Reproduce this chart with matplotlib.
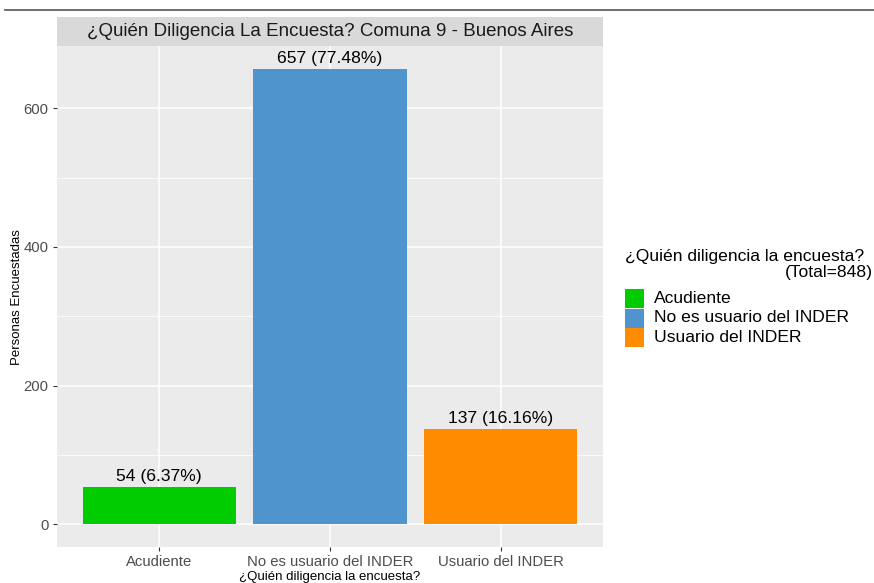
import matplotlib
matplotlib.use("Agg")
import matplotlib.pyplot as plt
from matplotlib.patches import Rectangle
from matplotlib.lines import Line2D

plt.rcParams['font.family'] = ['Liberation Sans', 'DejaVu Sans']

# data
categorias = ["Acudiente", "No es usuario del INDER", "Usuario del INDER"]
valores = [54, 657, 137]
etiquetas = ["54 (6.37%)", "657 (77.48%)", "137 (16.16%)"]
colores = ["#00CC00", "#4F94CD", "#FF8C00"]
total = 848

fig = plt.figure(figsize=(8.74, 5.83), dpi=100)
W, H = 874, 583

# panel position in pixels
px0, px1 = 57, 603
py_top, py_bot = 46, 547
ax = fig.add_axes([px0 / W, 1 - py_bot / H, (px1 - px0) / W, (py_bot - py_top) / H])
ax.set_facecolor("#EBEBEB")

x = [1, 2, 3]
ax.bar(x, valores, width=0.9, color=colores, zorder=3)
for xi, v, lab in zip(x, valores, etiquetas):
    ax.text(xi, v + 4, lab, ha="center", va="bottom", fontsize=12.6, color="black", zorder=4)

ax.set_xlim(0.4, 3.6)
ax.set_ylim(-32.85, 689.85)
ax.set_xticks(x)
ax.set_xticklabels(categorias)
ax.set_yticks([0, 200, 400, 600])
ax.set_yticks([100, 300, 500], minor=True)
ax.grid(which="major", color="white", linewidth=1.1, zorder=0)
ax.grid(which="minor", axis="y", color="white", linewidth=0.55, zorder=0)
ax.tick_params(which="major", length=3, color="#333333", labelcolor="#4D4D4D", labelsize=10.7, pad=3)
ax.tick_params(which="minor", length=0)
for s in ax.spines.values():
    s.set_visible(False)
ax.set_axisbelow(True)

ax.set_xlabel("¿Quién diligencia la encuesta?", fontsize=9.5, labelpad=1)
fig.text(17 / W, 1 - 297 / H, "Personas Encuestadas", rotation=90, ha="center", va="center", fontsize=9.5)

# title strip
fig.patches.append(Rectangle((px0 / W, 1 - py_top / H), (px1 - px0) / W, 29 / H,
                             transform=fig.transFigure, facecolor="#D9D9D9", edgecolor="none"))
fig.text((px0 + px1) / 2 / W, 1 - 32 / H, "¿Quién Diligencia La Encuesta? Comuna 9 - Buenos Aires",
         ha="center", va="center", fontsize=13.5, color="#1A1A1A")

# top rule
fig.add_artist(Line2D([5 / W, 1], [1 - 10 / H, 1 - 10 / H], color="#555555", linewidth=1.2,
                      transform=fig.transFigure))

# legend
fig.text(625 / W, 1 - 256 / H, "¿Quién diligencia la encuesta?", ha="left", va="center", fontsize=12.6)
fig.text(873 / W, 1 - 272 / H, "(Total=%d)" % total, ha="right", va="center", fontsize=12.6)
for i, (c, lab) in enumerate(zip(colores, categorias)):
    ytop = 289 + i * 19.5
    fig.patches.append(Rectangle((625 / W, 1 - (ytop + 19) / H), 19 / W, 19 / H,
                                 transform=fig.transFigure, facecolor=c, edgecolor="none"))
    fig.text(654 / W, 1 - (ytop + 9.5) / H, lab, ha="left", va="center", fontsize=12.6)

fig.savefig("out.png", dpi=100)
